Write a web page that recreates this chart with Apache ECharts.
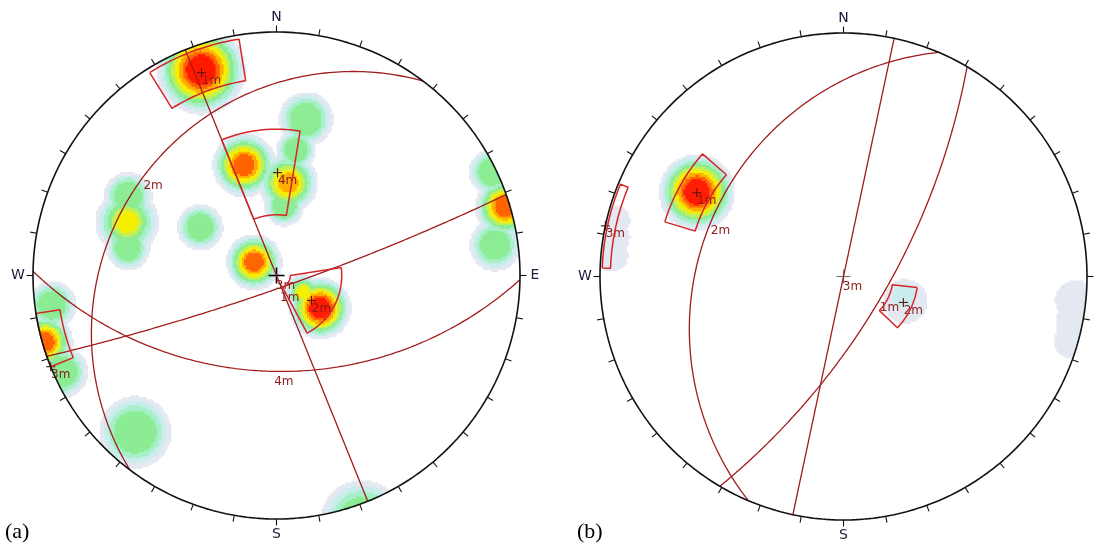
<!DOCTYPE html>
<html><head><meta charset="utf-8">
<script src="https://cdn.jsdelivr.net/npm/echarts@6/dist/echarts.min.js"></script>
<style>html,body{margin:0;padding:0;background:#fff}#c{width:1096px;height:544px}</style>
</head><body><div id="c"></div>
<script>
// ================= DATA =================
const tickAzimuths = [0,10,20,30,40,50,60,70,80,90,100,110,120,130,140,150,160,170,180,190,200,210,220,230,240,250,260,270,280,290,300,310,320,330,340,350];
const cardinalLabels = ['N','E','S','W'];
const cardinalAzimuths = [0,90,180,270];
const panelLabels = ['(a)','(b)'];

// ---- Net (a) ----
const planesA_name = ['1m','2m','3m','4m'];
const planesA_dipDir = [160.6, 307, 68, 181];
const planesA_dip = [84, 21.5, 90, 47];
const polesA_name = ['1m','2m','3m','4m'];
const polesA_trend = [339.7, 125.5, 248, 0.6];
const polesA_plunge = [6.8, 70, 0, 44.2];
const windowsA_trendFrom = [328, 83, 248, 338];
const windowsA_trendTo = [351, 153, 261, 369.3];
const windowsA_plungeFrom = [1, 60, 0, 28];
const windowsA_plungeTo = [12, 83.5, 6, 62];
// density blobs: [x, y, spread, peak level] in net units
const densityA = [
  [-0.310, 0.844, 0.182, 9], [0.121, 0.643, 0.111, 4], [0.080, 0.515, 0.082, 4],
  [-0.133, 0.454, 0.131, 8], [0.047, 0.380, 0.123, 7], [0.031, 0.285, 0.082, 4],
  [-0.614, 0.220, 0.131, 6], [-0.610, 0.326, 0.099, 4], [-0.610, 0.113, 0.090, 4],
  [-0.314, 0.199, 0.094, 4], [-0.092, 0.055, 0.115, 8], [0.179, -0.134, 0.127, 9],
  [0.109, -0.068, 0.074, 6], [-0.951, -0.273, 0.115, 8], [-0.922, -0.121, 0.099, 4],
  [-0.881, -0.396, 0.107, 4], [0.938, 0.281, 0.123, 8], [0.885, 0.425, 0.095, 4],
  [0.897, 0.125, 0.105, 4], [-0.581, -0.643, 0.148, 4], [0.351, -1.012, 0.172, 4]
];

// ---- Net (b) ----
const planesB_name = ['1m','2m','3m'];
const planesB_dipDir = [120.5, 293, 102];
const planesB_dip = [70, 29, 90];
const polesB_name = ['1m','2m','3m'];
const polesB_trend = [299.7, 113.4, 282];
const polesB_plunge = [20.5, 60, 0];
const windowsB_trendFrom = [287, 98.5, 272];
const windowsB_trendTo = [311, 133.5, 292.5];
const windowsB_plungeFrom = [15, 56, 0.5];
const windowsB_plungeTo = [25, 67, 2.5];
const densityB = [
  [-0.602, 0.347, 0.156, 9], [-0.940, 0.232, 0.062, 1], [-0.945, 0.160, 0.066, 1], [-0.952, 0.088, 0.066, 1],
  [0.253, -0.101, 0.090, 1], [0.249, -0.080, 0.055, 2],
  [0.952, -0.097, 0.082, 1], [0.945, -0.180, 0.074, 1], [0.939, -0.261, 0.074, 1]
];

// ================= STYLE / HELPERS =================
const LEVEL_COLORS = ['#e4e9f1','#c9ecec','#a6efc9','#8bec94','#c4f052','#f6ef00','#ffae00','#ff6400','#ff1a00'];
const GC_COLOR = '#a01c1c', WIN_COLOR = '#d42628', LABEL_COLOR = '#8b1a1a';
const D2R = Math.PI/180;
const grids = [{left:33, top:32, width:487, height:487}, {left:600, top:33, width:487, height:487}];

function proj(t, p){ const r = Math.tan((90-p)/2*D2R); return [r*Math.sin(t*D2R), r*Math.cos(t*D2R)]; }
function planeVec(D, dip, th){
  const sx=Math.sin((D-90)*D2R), sy=Math.cos((D-90)*D2R);
  const c=Math.cos(dip*D2R);
  const dx=c*Math.sin(D*D2R), dy=c*Math.cos(D*D2R), dz=Math.sin(dip*D2R);
  const a=Math.cos(th*D2R), b=Math.sin(th*D2R);
  const vx=a*sx+b*dx, vy=a*sy+b*dy, vz=b*dz;
  return [vx/(1+vz), vy/(1+vz)];
}
function planeLine(D, dip){ const pts=[]; for(let th=0; th<=180; th+=1) pts.push(planeVec(D,dip,th)); return pts; }
function windowPoly(t1,t2,p1,p2){
  const pts=[]; const n=Math.max(4, Math.ceil(t2-t1));
  for(let k=0;k<=n;k++) pts.push(proj(t1+(t2-t1)*k/n, p1));
  for(let k=n;k>=0;k--) pts.push(proj(t1+(t2-t1)*k/n, p2));
  pts.push(pts[0]);
  return pts;
}
const NCELL = 240, CELL = 2/NCELL;
function blobLevel(b, d){
  if(d>=b[2]) return 0;
  const P=b[3]; const step = P>1 ? Math.min(0.135, 0.66/(P-1)) : 1;
  return Math.min(P, 1+Math.floor((1-d/b[2])/step));
}
function densityCells(blobs){
  const out=[];
  for(let j=0;j<NCELL;j++){
    const y = 1-(j+0.5)*CELL; let runStart=0, runLev=0;
    for(let i=0;i<=NCELL;i++){
      let lev=0;
      if(i<NCELL){
        const x=-1+(i+0.5)*CELL;
        if(x*x+y*y<0.9985){
          for(const b of blobs){
            const l=blobLevel(b, Math.hypot(x-b[0], y-b[1]));
            if(l>lev) lev=l;
          }
        }
      }
      if(lev!==runLev){ if(runLev>0) out.push([-1+runStart*CELL, -1+i*CELL, y, runLev]); runStart=i; runLev=lev; }
    }
  }
  return out;
}

function makeNet(idx, net){
  const ax = {xAxisIndex:idx, yAxisIndex:idx};
  const series=[];
  series.push(Object.assign({
    type:'custom', coordinateSystem:'cartesian2d', clip:false, silent:true, progressive:0, animation:false,
    data: densityCells(net.density),
    renderItem(params, api){
      const x0=api.value(0), x1=api.value(1), y=api.value(2), lev=api.value(3);
      const p0=api.coord([x0, y+CELL/2]), p1=api.coord([x1, y-CELL/2]);
      return {type:'rect', shape:{x:p0[0], y:p0[1], width:p1[0]-p0[0]+0.3, height:p1[1]-p0[1]+0.6}, style:{fill:LEVEL_COLORS[lev-1]}};
    }
  }, ax));
  net.planeDipDir.forEach((D,k)=>{
    series.push(Object.assign({type:'line', clip:false, silent:true, symbol:'none', animation:false,
      data: planeLine(D, net.planeDip[k]), lineStyle:{color:GC_COLOR, width:1.3}}, ax));
  });
  net.winFrom.forEach((t1,k)=>{
    series.push(Object.assign({type:'line', clip:false, silent:true, symbol:'none', animation:false,
      data: windowPoly(t1, net.winTo[k], net.plFrom[k], net.plTo[k]), lineStyle:{color:WIN_COLOR, width:1.5}}, ax));
  });
  const circ=[]; for(let a=0;a<=360;a+=1) circ.push([Math.sin(a*D2R), Math.cos(a*D2R)]);
  series.push(Object.assign({type:'line', clip:false, silent:true, symbol:'none', animation:false,
    data: circ, lineStyle:{color:'#111', width:1.6}}, ax));
  series.push(Object.assign({type:'custom', coordinateSystem:'cartesian2d', clip:false, silent:true, animation:false,
    data: tickAzimuths.map(a=>[Math.sin(a*D2R), Math.cos(a*D2R)]),
    renderItem(params, api){
      const p=api.coord([api.value(0), api.value(1)]), c=api.coord([0,0]);
      const dx=p[0]-c[0], dy=p[1]-c[1], L=Math.hypot(dx,dy);
      return {type:'line', shape:{x1:p[0], y1:p[1], x2:p[0]+dx/L*6.5, y2:p[1]+dy/L*6.5}, style:{stroke:'#111', lineWidth:1.1}};
    }}, ax));
  series.push(Object.assign({type:'custom', coordinateSystem:'cartesian2d', clip:false, silent:true, animation:false,
    data: cardinalAzimuths.map(a=>[Math.sin(a*D2R), Math.cos(a*D2R)]),
    renderItem(params, api){
      const p=api.coord([api.value(0), api.value(1)]), c=api.coord([0,0]);
      const dx=p[0]-c[0], dy=p[1]-c[1], L=Math.hypot(dx,dy);
      return {type:'text', x:p[0]+dx/L*15, y:p[1]+dy/L*15,
        style:{text:cardinalLabels[params.dataIndex], fill:'#1c1c3a', font:'14px "DejaVu Sans"', align:'center', verticalAlign:'middle'}};
    }}, ax));
  series.push(Object.assign({type:'custom', coordinateSystem:'cartesian2d', clip:false, silent:true, animation:false,
    data: [[0,0]],
    renderItem(params, api){
      const c=api.coord([0,0]); const s=net.crossSize;
      return {type:'group', children:[
        {type:'line', shape:{x1:c[0]-s, y1:c[1], x2:c[0]+s, y2:c[1]}, style:{stroke:net.crossColor, lineWidth:net.crossWidth}},
        {type:'line', shape:{x1:c[0], y1:c[1]-s, x2:c[0], y2:c[1]+s}, style:{stroke:net.crossColor, lineWidth:net.crossWidth}}]};
    }}, ax));
  series.push(Object.assign({type:'custom', coordinateSystem:'cartesian2d', clip:false, silent:true, animation:false,
    data: net.planeDipDir.map((D,k)=>planeVec(D, net.planeDip[k], 90)),
    renderItem(params, api){
      const p=api.coord([api.value(0), api.value(1)]);
      return {type:'text', x:p[0]+9, y:p[1]+10,
        style:{text:net.planeName[params.dataIndex], fill:LABEL_COLOR, font:'12px "DejaVu Sans"', align:'center', verticalAlign:'middle'}};
    }}, ax));
  series.push(Object.assign({type:'custom', coordinateSystem:'cartesian2d', clip:false, silent:true, animation:false,
    data: net.poleTrend.map((t,k)=>proj(t, net.polePlunge[k])),
    renderItem(params, api){
      const p=api.coord([api.value(0), api.value(1)]); const s=4.5;
      return {type:'group', children:[
        {type:'line', shape:{x1:p[0]-s, y1:p[1], x2:p[0]+s, y2:p[1]}, style:{stroke:'#5c1010', lineWidth:1.1}},
        {type:'line', shape:{x1:p[0], y1:p[1]-s, x2:p[0], y2:p[1]+s}, style:{stroke:'#5c1010', lineWidth:1.1}},
        {type:'text', x:p[0]+10, y:p[1]+8, style:{text:net.poleName[params.dataIndex], fill:LABEL_COLOR, font:'12px "DejaVu Sans"', align:'center', verticalAlign:'middle'}}]};
    }}, ax));
  return series;
}

const netA = {density:densityA, planeName:planesA_name, planeDipDir:planesA_dipDir, planeDip:planesA_dip,
  poleName:polesA_name, poleTrend:polesA_trend, polePlunge:polesA_plunge,
  winFrom:windowsA_trendFrom, winTo:windowsA_trendTo, plFrom:windowsA_plungeFrom, plTo:windowsA_plungeTo,
  crossSize:8, crossColor:'#000', crossWidth:1.6};
const netB = {density:densityB, planeName:planesB_name, planeDipDir:planesB_dipDir, planeDip:planesB_dip,
  poleName:polesB_name, poleTrend:polesB_trend, polePlunge:polesB_plunge,
  winFrom:windowsB_trendFrom, winTo:windowsB_trendTo, plFrom:windowsB_plungeFrom, plTo:windowsB_plungeTo,
  crossSize:7, crossColor:'#7a7a7a', crossWidth:1.2};

const axisBase = {type:'value', min:-1, max:1, show:false};
const chart = echarts.init(document.getElementById('c'), null, {renderer:'canvas'});
chart.setOption({
  animation:false,
  backgroundColor:'#ffffff',
  grid: grids,
  xAxis: [Object.assign({gridIndex:0}, axisBase), Object.assign({gridIndex:1}, axisBase)],
  yAxis: [Object.assign({gridIndex:0}, axisBase), Object.assign({gridIndex:1}, axisBase)],
  graphic: [
    {type:'text', left:5, top:521, style:{text:panelLabels[0], font:'22px "Liberation Serif"', fill:'#000'}},
    {type:'text', left:577, top:521, style:{text:panelLabels[1], font:'22px "Liberation Serif"', fill:'#000'}}
  ],
  series: makeNet(0, netA).concat(makeNet(1, netB))
});
</script>
</body></html>
